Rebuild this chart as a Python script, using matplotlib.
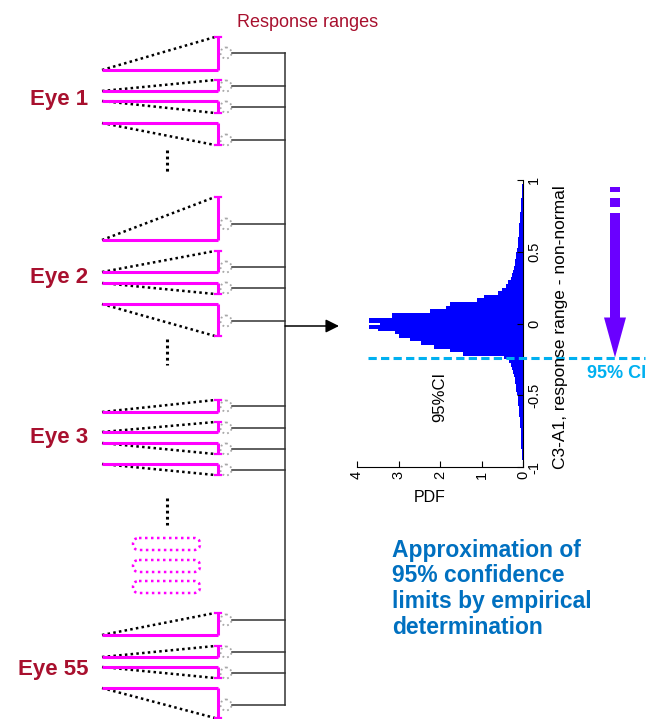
import numpy as np
import matplotlib
matplotlib.use("Agg")
import matplotlib.pyplot as plt
from matplotlib.patches import Circle, FancyBboxPatch, FancyArrow, Rectangle

plt.rcParams["font.family"] = ["Liberation Sans", "DejaVu Sans"]

# ── DATA ────────────────────────────────────────────────────────────────────
eye_labels = ["Eye 1", "Eye 2", "Eye 3", "Eye 55"]

# response-range histogram (PDF per bin), bins run from -1 to 1
pdf_lower = [0.01, 0.01, 0.02, 0.02, 0.03, 0.04, 0.04, 0.05, 0.05, 0.06,
             0.06, 0.07, 0.08, 0.08, 0.09, 0.10, 0.10, 0.11, 0.12, 0.13,
             0.15, 0.16, 0.17, 0.19, 0.20, 0.22, 0.24, 0.26, 0.28, 0.34,
             0.45, 1.45, 1.76, 2.15, 2.45, 2.72, 3.00]
pdf_center = [3.08, 3.50, 3.72, 3.44, 3.72, 3.15]
pdf_upper = [2.25, 1.85, 1.75, 1.12, 0.95, 0.60, 0.50, 0.42, 0.36, 0.30,
             0.27, 0.24, 0.22, 0.20, 0.19, 0.17, 0.16, 0.14, 0.13, 0.12,
             0.11, 0.10, 0.10, 0.09, 0.09, 0.08, 0.08, 0.07, 0.06, 0.05,
             0.05, 0.04, 0.03, 0.03, 0.02, 0.02, 0.01]
center_inner_edges = [-0.05, -0.035, -0.012, 0.005, 0.04]
ci_95 = -0.237

resp_ticks = [-1, -0.5, 0, 0.5, 1]
resp_tick_labels = ["-1", "-0.5", "0", "0.5", "1"]
pdf_ticks = [0, 1, 2, 3, 4]

text_lines = ["Approximation of", "95% confidence", "limits by empirical", "determination"]

# ── LAYOUT (pixel coords of the schematic) ──────────────────────────────────
W, H = 657, 719
label_y = [99, 278, 437, 669]
base_y = [[70, 91, 101, 123], [240, 272, 283, 304],
          [412, 432, 443, 464], [635, 657, 667, 688]]
tip_y = [[37, 80, 113, 145], [197, 251, 294, 336],
         [400, 422, 454, 475], [613, 646, 678, 718]]
wire_y = [[53, 86, 107, 140], [224, 267, 288, 321],
          [406, 428, 449, 470], [620, 652, 673, 705]]
dots_y = [(150, 173), (339, 365), (498, 525)]
box_y = [538, 560, 581]

EYE_RED = "#A8102E"
MAGENTA = "#FF00FF"
CYAN = "#00B0F0"
PURPLE = "#6A00FF"
TEXT_BLUE = "#0070C0"

fig = plt.figure(figsize=(W / 100, H / 100), dpi=100)

# main schematic axes in pixel coordinates
ax = fig.add_axes([0, 0, 1, 1])
ax.set_xlim(0, W)
ax.set_ylim(H, 0)
ax.axis("off")
ax.set_zorder(2)

ax.text(308, 27, "Response ranges", ha="center", va="baseline",
        fontsize=13, color=EYE_RED)

for lab, ly, bases, tips, wires in zip(eye_labels, label_y, base_y, tip_y, wire_y):
    ax.text(88, ly, lab, ha="right", va="center", fontsize=16,
            fontweight="bold", color=EYE_RED)
    for b, t, w in zip(bases, tips, wires):
        ax.plot([102, 215], [b, t], color="black", lw=1.8,
                ls=(0, (1, 1.3)))
        ax.plot([102, 218], [b, b], color=MAGENTA, lw=2.2,
                solid_capstyle="butt")
        ax.plot([218, 218], [b, t], color=MAGENTA, lw=2.2,
                solid_capstyle="butt")
        ax.plot([215, 221], [t, t], color=MAGENTA, lw=1.6)
        ax.add_patch(Circle((226, w), 5.5, fill=False, ec="#A8A8A8",
                            ls=":", lw=1.3))
        ax.plot([232, 285], [w, w], color="#333333", lw=1.1)

# bus and arrow to histogram
ax.plot([285, 285], [53, 705], color="#333333", lw=1.1)
ax.annotate("", xy=(339, 326), xytext=(285, 326),
            arrowprops=dict(arrowstyle="-|>", color="black", lw=1.1,
                            mutation_scale=20, shrinkA=0, shrinkB=0))

# "more eyes" markers
for y0, y1 in dots_y:
    ax.plot([167, 167], [y0, y1], color="black", lw=2.2,
            ls=(0, (0.9, 1.1)))
for by in box_y:
    ax.add_patch(FancyBboxPatch((133, by), 67, 12,
                                boxstyle="round,pad=0,rounding_size=6",
                                fill=False, ec=MAGENTA, ls=(0, (1, 1.4)), lw=1.8))

# ── HISTOGRAM (rotated) ─────────────────────────────────────────────────────
edges = np.concatenate([np.linspace(-1.0, -0.075, 38),
                        center_inner_edges,
                        np.linspace(0.075, 1.0, 38)])
pdf = np.array(pdf_lower + pdf_center + pdf_upper)

left, right = 357, 523
top, bottom = 180, 467
axh = fig.add_axes([left / W, 1 - bottom / H, (right - left) / W, (bottom - top) / H])
axh.set_zorder(1)
axh.barh(edges[:-1], pdf, height=np.diff(edges), align="edge",
         color="#0000FF", linewidth=0)
axh.set_xlim(4, 0)
axh.set_ylim(-1, 1)
axh.spines["top"].set_visible(False)
axh.spines["left"].set_visible(False)
axh.yaxis.tick_right()
axh.set_yticks(resp_ticks)
axh.set_yticklabels(resp_tick_labels, rotation=90, va="center", fontsize=10.5)
axh.set_xticks(pdf_ticks)
axh.set_xticklabels([str(t) for t in pdf_ticks], rotation=90, fontsize=10.5)
axh.tick_params(direction="in", length=4, width=0.8, pad=3)
axh.patch.set_alpha(0)

ax.text(561, 327, "C3-A1, response range - non-normal", rotation=90,
        ha="center", va="center", fontsize=12.5)
ax.text(430, 498, "PDF", ha="center", va="center", fontsize=11.5)
ax.text(440, 397, "95%CI", rotation=90, ha="center", va="center", fontsize=12)

# 95% CI line and arrow
ci_px = top + (1 - ci_95) / 2 * (bottom - top)
ax.plot([368, 645], [ci_px, ci_px], color=CYAN, lw=2.2, dashes=(2.7, 1.4))
ax.text(617, 373, "95% CI", ha="center", va="center", fontsize=13,
        fontweight="bold", color=CYAN)
ax.add_patch(Rectangle((610, 187), 10, 5, color=PURPLE, lw=0))
ax.add_patch(Rectangle((610, 198), 10, 9, color=PURPLE, lw=0))
ax.add_patch(FancyArrow(615, 213, 0, ci_px - 213, width=10, head_width=22,
                        head_length=40, length_includes_head=True,
                        color=PURPLE, lw=0))

# explanatory text
for i, line in enumerate(text_lines):
    ax.text(392, 557 + i * 25.5, line, ha="left", va="baseline",
            fontsize=16.5, fontweight="bold", color=TEXT_BLUE)

plt.savefig("out.png", dpi=100)
